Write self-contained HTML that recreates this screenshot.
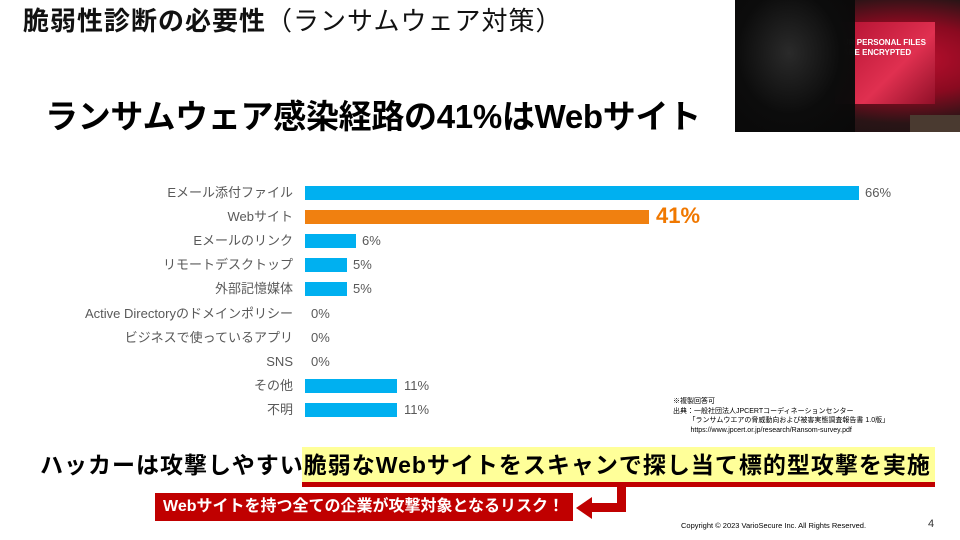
<!DOCTYPE html>
<html><head><meta charset="utf-8"><style>
*{margin:0;padding:0;box-sizing:border-box}
body{width:960px;height:540px;position:relative;background:#fff;overflow:hidden;font-family:"Liberation Sans","Noto Sans CJK JP",sans-serif}
.a{position:absolute;white-space:nowrap}
.lbl{position:absolute;right:667px;font-size:13px;color:#595959;line-height:16px}
.bar{position:absolute;left:305px;height:14px;background:#00b0f0}
.val{position:absolute;font-size:13px;color:#595959;line-height:16px}
</style></head><body>
<div class="a" style="left:23px;top:5px;font-size:26px;color:#111;line-height:32px;letter-spacing:1px"><b>脆弱性診断の必要性</b>（ランサムウェア対策）</div>
<div class="a" style="left:45px;top:96px;font-size:33px;font-weight:bold;color:#000;line-height:42px;letter-spacing:-0.3px">ランサムウェア感染経路の41%はWebサイト</div>
<div class="a" style="left:735px;top:0;width:225px;height:132px;background:radial-gradient(ellipse at 75% 45%,#c01030 0%,#8a0a20 35%,#2a1416 62%,#111 100%)">
 <div class="a" style="left:100px;top:22px;width:100px;height:82px;background:linear-gradient(135deg,#b01030,#e03050 60%,#901028);"></div>
 <div class="a" style="left:108px;top:38px;font-size:8px;color:#fff;font-weight:bold;line-height:10px">UR PERSONAL FILES<br>ARE ENCRYPTED</div>
 <div class="a" style="left:0;top:0;width:120px;height:132px;background:radial-gradient(ellipse at 45% 40%,#2a2a2a 0%,#0c0c0c 55%,rgba(8,8,8,0.95) 100%)"></div>
 <div class="a" style="left:175px;top:115px;width:50px;height:17px;background:#4a3a30"></div>
</div>
<div class="lbl" style="top:185px">Eメール添付ファイル</div>
<div class="lbl" style="top:209px">Webサイト</div>
<div class="lbl" style="top:233px">Eメールのリンク</div>
<div class="lbl" style="top:257px">リモートデスクトップ</div>
<div class="lbl" style="top:281px">外部記憶媒体</div>
<div class="lbl" style="top:306px">Active Directoryのドメインポリシー</div>
<div class="lbl" style="top:330px">ビジネスで使っているアプリ</div>
<div class="lbl" style="top:354px">SNS</div>
<div class="lbl" style="top:378px">その他</div>
<div class="lbl" style="top:402px">不明</div>
<div class="bar" style="top:186px;width:554px"></div><div class="val" style="left:865px;top:185px">66%</div>
<div class="bar" style="top:210px;width:344px;background:#f08010"></div><div class="val" style="left:656px;top:203px;font-size:22px;font-weight:bold;color:#f07800;line-height:26px">41%</div>
<div class="bar" style="top:234px;width:51px"></div><div class="val" style="left:362px;top:233px">6%</div>
<div class="bar" style="top:258px;width:42px"></div><div class="val" style="left:353px;top:257px">5%</div>
<div class="bar" style="top:282px;width:42px"></div><div class="val" style="left:353px;top:281px">5%</div>
<div class="val" style="left:311px;top:306px">0%</div>
<div class="val" style="left:311px;top:330px">0%</div>
<div class="val" style="left:311px;top:354px">0%</div>
<div class="bar" style="top:379px;width:92px"></div><div class="val" style="left:404px;top:378px">11%</div>
<div class="bar" style="top:403px;width:92px"></div><div class="val" style="left:404px;top:402px">11%</div>
<div class="a" style="left:673px;top:397px;font-size:7px;line-height:9.5px;color:#000">※複製回答可<br>出典：一般社団法人JPCERTコーディネーションセンター<br>&nbsp;&nbsp;&nbsp;&nbsp;&nbsp;&nbsp;&nbsp;&nbsp;「ランサムウエアの脅威動向および被害実態調査報告書 1.0版」<br>&nbsp;&nbsp;&nbsp;&nbsp;&nbsp;&nbsp;&nbsp;&nbsp;&nbsp;https://www.jpcert.or.jp/research/Ransom-survey.pdf</div>
<div class="a" style="left:302px;top:447px;width:633px;height:36px;background:#ffff99"></div>
<div class="a" style="left:302px;top:482px;width:633px;height:5px;background:#c00000"></div>
<div class="a" style="left:40px;top:450px;font-size:23px;font-weight:bold;color:#000;line-height:30px;letter-spacing:1px">ハッカーは攻撃しやすい脆弱なWebサイトをスキャンで探し当て標的型攻撃を実施</div>
<div class="a" style="left:617px;top:487px;width:9px;height:25px;background:#c00000"></div>
<div class="a" style="left:590px;top:503px;width:36px;height:9px;background:#c00000"></div>
<div class="a" style="left:576px;top:497px;width:0;height:0;border-top:11px solid transparent;border-bottom:11px solid transparent;border-right:16px solid #c00000"></div>
<div class="a" style="left:155px;top:493px;width:418px;height:28px;background:#c00000;color:#fff;font-size:16px;font-weight:bold;line-height:28px;padding-left:8px;letter-spacing:0px">Webサイトを持つ全ての企業が攻撃対象となるリスク！</div>
<div class="a" style="left:681px;top:521px;font-size:7.5px;color:#000">Copyright © 2023 VarioSecure Inc. All Rights Reserved.</div>
<div class="a" style="left:928px;top:518px;font-size:11px;color:#333">4</div>
</body></html>
